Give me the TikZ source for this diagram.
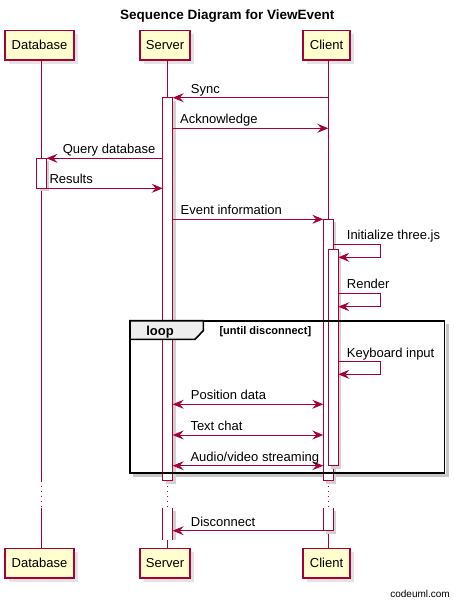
\documentclass[tikz,border=0pt]{standalone}
\usepackage{fontspec}
\setmainfont{Liberation Sans}
\usetikzlibrary{arrows.meta,shadows}
\definecolor{umlred}{HTML}{A80036}
\definecolor{umlfill}{HTML}{FEFECE}
\definecolor{tabfill}{HTML}{EEEEEE}
\tikzset{
  part/.style={draw=umlred, fill=umlfill, line width=1.3pt, minimum height=29.5pt, inner sep=0pt,
    font=\fontsize{13}{15}\selectfont,
    drop shadow={shadow xshift=3.5pt, shadow yshift=-3.5pt, fill=black!22}},
  life/.style={draw=umlred, line width=0.9pt},
  lifedot/.style={draw=umlred, line width=0.9pt, dash pattern=on 1pt off 4pt},
  actbar/.style={draw=umlred, fill=white, line width=0.9pt},
  barshadow/.style={fill=black!18, draw=none},
  msg/.style={draw=umlred, line width=0.9pt, arrows={-Stealth[length=11pt,width=9pt,inset=4pt]}},
  dmsg/.style={draw=umlred, line width=0.9pt, arrows={Stealth[length=11pt,width=9pt,inset=4pt]-Stealth[length=11pt,width=9pt,inset=4pt]}},
  lbl/.style={font=\fontsize{13}{15}\selectfont, inner sep=0pt, anchor=base west},
  lblr/.style={font=\fontsize{13}{15}\selectfont, inner sep=0pt, anchor=base east},
  frameline/.style={draw=black, line width=1.6pt},
  frameshadow/.style={draw=black!22, line width=2.5pt},
}
\begin{document}
\begin{tikzpicture}[x=1pt,y=-1pt]
\useasboundingbox (0,0) rectangle (454,604);

% title
\node[font=\fontsize{13.5}{16}\selectfont\bfseries, anchor=base, inner sep=0pt] (title) at (227.3,20) {Sequence Diagram for ViewEvent};

% participants
\node[part, minimum width=69pt] (dbT) at (39.5,45.3) {Database};
\node[part, minimum width=50pt] (srvT) at (165,45.3) {Server};
\node[part, minimum width=47pt] (cliT) at (326.5,45.3) {Client};
\node[part, minimum width=69pt] (dbB) at (39.5,563.3) {Database};
\node[part, minimum width=50pt] (srvB) at (165,563.3) {Server};
\node[part, minimum width=47pt] (cliB) at (326.5,563.3) {Client};

% lifeline break coordinates
\coordinate (dbA) at (41.3,480.7);  \coordinate (dbC) at (41.3,507.7);
\coordinate (srvA) at (167.3,480.7); \coordinate (srvC) at (167.3,507.7);
\coordinate (cliA) at (328.3,480.7); \coordinate (cliC) at (328.3,507.7);

\draw[life] (dbT.south -| dbA) -- (dbA);
\draw[lifedot] (dbA) -- (dbC);
\draw[life] (dbC) -- (dbB.north -| dbC);
\draw[life] (srvT.south -| srvA) -- (srvA);
\draw[lifedot] (srvA) -- (srvC);
\draw[life] (srvC) -- (srvB.north -| srvC);
\draw[life] (cliT.south -| cliA) -- (cliA);
\draw[lifedot] (cliA) -- (cliC);
\draw[life] (cliC) -- (cliB.north -| cliC);

% frame shadow
\draw[frameshadow] (447.3,324) -- (447.3,475.7) -- (133,475.7);

% activation bars (with shadows)
\fill[barshadow] (165.7,100.7) rectangle (175.7,483.7);
\draw[actbar] (162.7,97.7) rectangle (172.7,480.7);
\fill[barshadow] (39.5,161.3) rectangle (49,191.3);
\draw[actbar] (36.5,158.3) rectangle (46,188.3);
\fill[barshadow] (326.3,222.3) rectangle (336.3,483.7);
\draw[actbar] (323.3,219.3) rectangle (333.3,480.7);
\fill[barshadow] (331.3,252.3) rectangle (341.3,468.7);
\draw[actbar] (328.3,249.3) rectangle (338.3,465.7);
\fill[barshadow] (165.7,510.7) rectangle (175.7,540);
\fill[white] (162.7,507.7) rectangle (172.7,540);
\draw[life] (162.7,507.7) -- (162.7,540) (172.7,507.7) -- (172.7,540);
\fill[barshadow] (326.3,510.7) rectangle (336.3,533.7);
\fill[white] (323.3,507.7) rectangle (333.3,530.7);
\draw[life] (323.3,507.7) -- (323.3,530.7) -- (333.3,530.7) -- (333.3,507.7);

% message end points
\coordinate (syncS) at (328.3,97.7);   \coordinate (syncE) at (172.7,97.7);
\coordinate (ackS) at (172.7,128.3);   \coordinate (ackE) at (328.3,128.3);
\coordinate (qS) at (162.7,158.3);     \coordinate (qE) at (46.5,158.3);
\coordinate (rS) at (46,188.3);        \coordinate (rE) at (162.7,188.3);
\coordinate (evS) at (172.7,219.3);    \coordinate (evE) at (323.3,219.3);
\coordinate (inS) at (333.3,244.3);    \coordinate (inE) at (338.3,257.3);
\coordinate (reS) at (338.3,293.3);    \coordinate (reE) at (338.3,306.7);
\coordinate (kbS) at (338.3,361.7);    \coordinate (kbE) at (338.3,374.3);
\coordinate (posS) at (172.7,404.3);   \coordinate (posE) at (323.3,404.3);
\coordinate (txS) at (172.7,435);      \coordinate (txE) at (323.3,435);
\coordinate (avS) at (172.7,465.7);    \coordinate (avE) at (323.3,465.7);
\coordinate (dcS) at (323.3,530.7);    \coordinate (dcE) at (172.7,530.7);

% messages
\draw[msg] (syncS) -- (syncE);
\draw[msg] (ackS) -- (ackE);
\draw[msg] (qS) -- (qE);
\draw[msg] (rS) -- (rE);
\draw[msg] (evS) -- (evE);
\draw[msg] (inS) -- (380,244.3) -- (380,257.3) -- (inE);
\draw[msg] (reS) -- (380,293.3) -- (380,306.7) -- (reE);
\draw[msg] (kbS) -- (380,361.7) -- (380,374.3) -- (kbE);
\draw[dmsg] (posS) -- (posE);
\draw[dmsg] (txS) -- (txE);
\draw[dmsg] (avS) -- (avE);
\draw[msg] (dcS) -- (dcE);

% labels
\node[lbl] (lSync) at (190.7,93.3) {Sync};
\node[lbl] (lAck) at (180,123.5) {Acknowledge};
\node[lblr] (lQ) at (155.5,153.5) {Query database};
\node[lbl] (lRes) at (49.3,183.5) {Results};
\node[lbl] (lEv) at (180.5,214.5) {Event information};
\node[lbl] (lIn) at (346.7,239.5) {Initialize three.js};
\node[lbl] (lRe) at (346.7,288.5) {Render};
\node[lbl] (lKb) at (346.7,357) {Keyboard input};
\node[lbl] (lPos) at (190.7,399.5) {Position data};
\node[lbl] (lTx) at (190.3,430.2) {Text chat};
\node[lbl] (lAv) at (190.3,461) {Audio/video streaming};
\node[lbl] (lDc) at (190.7,526) {Disconnect};

% loop frame
\draw[frameline] (130,320.7) rectangle (444.3,472.7);
\draw[frameline, fill=tabfill] (130,320.7) -- (203.3,320.7) -- (203.3,330.7) -- (195,339.3) -- (130,339.3) -- cycle;
\node[font=\fontsize{13}{15}\selectfont\bfseries, anchor=base, inner sep=0pt] (loopL) at (160,335) {loop};
\node[font=\fontsize{11}{13}\selectfont\bfseries, anchor=base west, inner sep=0pt] (loopC) at (219.3,334) {[until disconnect]};

% footer
\node[font=\fontsize{10}{12}\selectfont, anchor=base east, inner sep=0pt] (foot) at (450,597) {codeuml.com};
\end{tikzpicture}
\end{document}
